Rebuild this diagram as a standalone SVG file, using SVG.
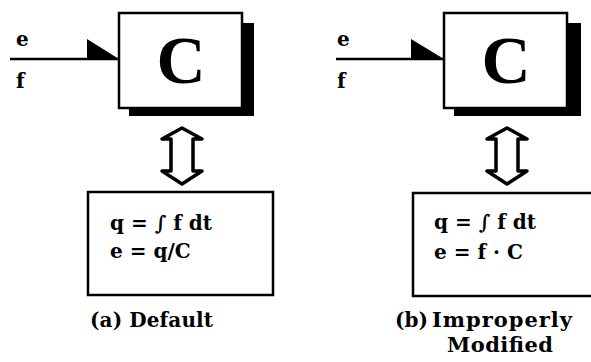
<svg xmlns="http://www.w3.org/2000/svg" width="591" height="362" viewBox="0 0 591 362">
<style>
.box{fill:#fff;stroke:#000;stroke-width:2.5}
.shadow{fill:#000}
.big{font-family:"Liberation Serif",serif;font-weight:bold;font-size:68px;text-anchor:middle}
.t{font-family:"DejaVu Serif","Liberation Serif",serif;font-weight:bold;font-size:20px;fill:#000}
.line{stroke:#000;stroke-width:2.5;fill:none}
.dbl{fill:#fff;stroke:#000;stroke-width:3.5;stroke-linejoin:round}
.eq{fill:#fff;stroke:#000;stroke-width:2.5}
</style>
<rect width="591" height="362" fill="#fff"/>
<g id="connectors">
  <line class="line" x1="10" y1="59" x2="119" y2="59"/>
  <polygon points="87,39 87,59 119,59" fill="#000"/>
  <line class="line" x1="336" y1="59" x2="444" y2="59"/>
  <polygon points="411,39 411,59 444,59" fill="#000"/>
  <polygon class="dbl" points="182,128 202,139 193,139 193,171 202,171 182,184 162,171 171,171 171,139 162,139"/>
  <polygon class="dbl" points="507,128 527,139 518,139 518,171 527,171 507,184 487,171 496,171 496,139 487,139"/>
</g>
<g id="labels-a">
  <text class="t" x="16" y="46">e</text>
  <text class="t" x="16" y="88">f</text>
</g>
<g id="nodeC-a">
  <rect class="shadow" x="129" y="23" width="125" height="93"/>
  <rect class="box" x="119" y="13" width="123" height="95"/>
  <text class="big" x="181" y="83">C</text>
</g>
<g id="eqs-a">
  <rect class="eq" x="88" y="192" width="185" height="103"/>
  <text class="t" x="110" y="230">q = ∫ f dt</text>
  <text class="t" x="110" y="258">e = q/C</text>
</g>
<text class="t" x="90" y="327" textLength="123">(a) Default</text>
<g id="labels-b">
  <text class="t" x="337" y="46">e</text>
  <text class="t" x="337" y="88">f</text>
</g>
<g id="nodeC-b">
  <rect class="shadow" x="454" y="23" width="127" height="93"/>
  <rect class="box" x="444" y="13" width="123" height="95"/>
  <text class="big" x="506" y="83">C</text>
</g>
<g id="eqs-b">
  <rect class="eq" x="413" y="193" width="200" height="103"/>
  <text class="t" x="434" y="229">q = ∫ f dt</text>
  <text class="t" x="434" y="259">e = f · C</text>
</g>
<text class="t" x="395" y="327">(b)</text>
<text class="t" x="432" y="327" textLength="140" style="font-size:21px">Improperly</text>
<text class="t" x="447" y="352" textLength="106" style="font-size:21px">Modified</text>
</svg>
